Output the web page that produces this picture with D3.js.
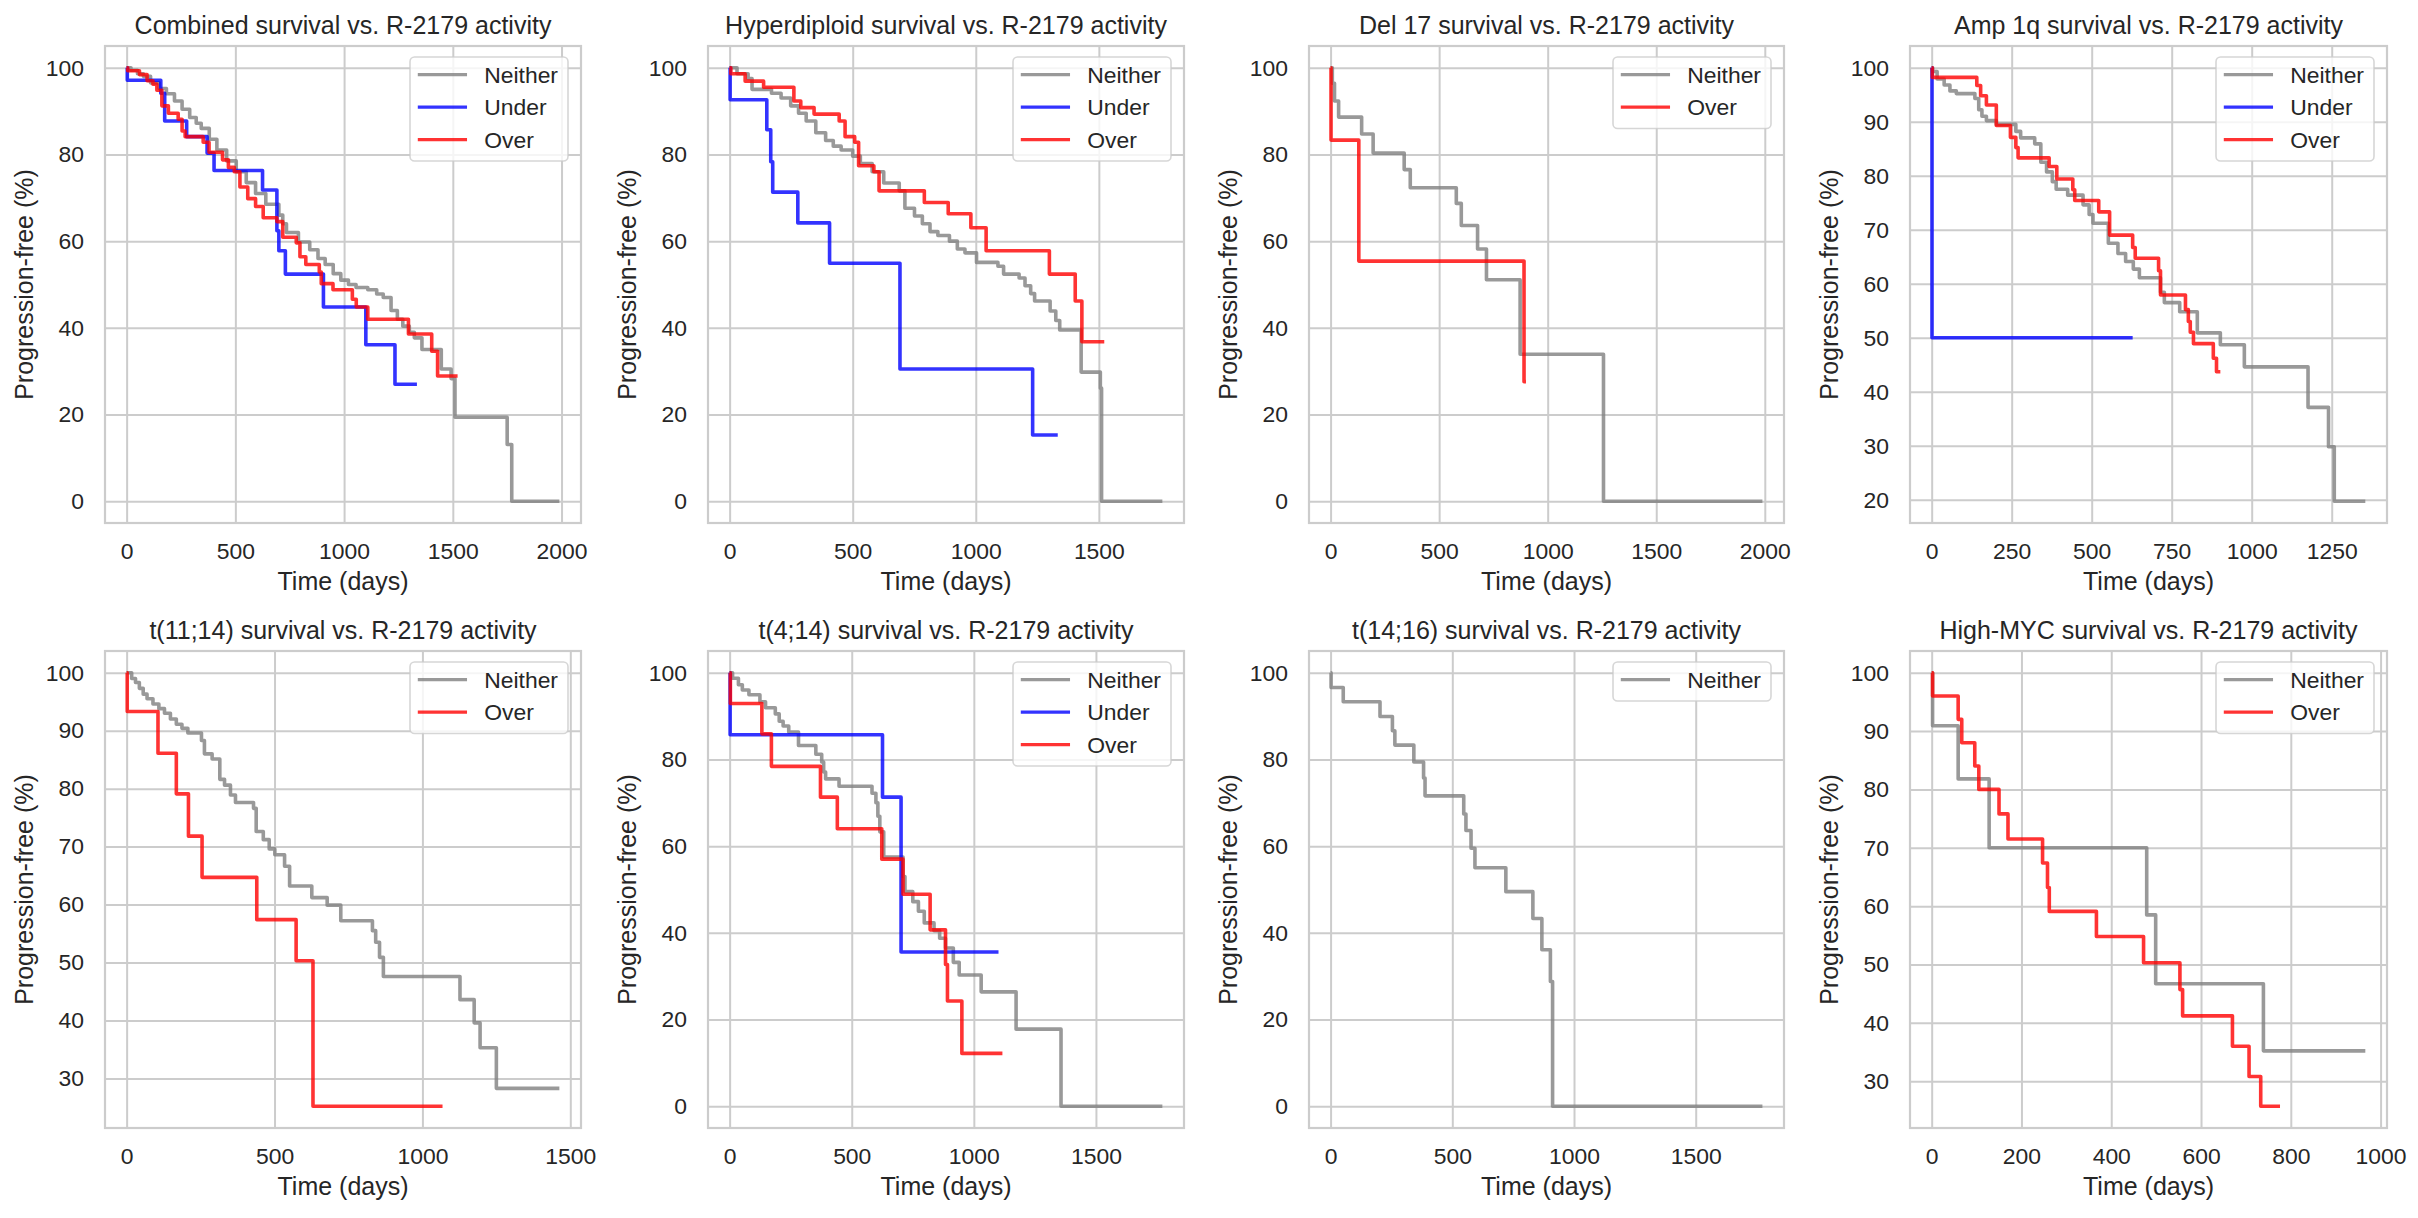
<!DOCTYPE html>
<html>
<head>
<meta charset="utf-8">
<script src="https://cdn.jsdelivr.net/npm/d3@7/dist/d3.min.js"></script>
<style>
body { margin: 0; background: #fff; }
text { font-family: "Liberation Sans", Arial, sans-serif; fill: #262626; }
</style>
</head>
<body>
<svg id="fig" width="2418" height="1218"></svg>
<script>
// step curves: [time (days), progression-free % after the step]
var combinedNeither = [[0,100],[20,99.4],[50,98.6],[77,98],[110,96.5],[150,95.2],[183,94],[220,92.3],[255,90.4],[290,88.5],[320,87.2],[343,86],[380,83.5],[415,81],[460,78.5],[504,76],[550,73.5],[593,71],[640,68.5],[700,66],[718,64],[735,62],[790,59.8],[842,58],[880,56],[913,54.6],[950,52.5],[985,51],[1020,50],[1055,49.3],[1109,48.8],[1150,47.8],[1180,47],[1216,44],[1245,42],[1270,40.4],[1300,39],[1323,37.7],[1358,35],[1447,30.5],[1492,28.3],[1510,19.4],[1750,13.1],[1771,0],[1990,0]];
var combinedUnder = [[0,100],[3,97.1],[157,94.1],[175,87.7],[276,84.1],[370,80.3],[402,76.3],[625,71.8],[691,62.4],[700,57.8],[730,52.4],[905,44.8],[1100,36.1],[1234,27],[1335,27]];
var combinedOver = [[0,100],[5,99.3],[59,98.4],[94,97],[121,96.2],[139,94.8],[162,91.2],[192,89.5],[237,88.1],[255,85.4],[269,84.1],[352,82.8],[379,80.5],[441,78.75],[468,77],[495,76],[521,72.5],[557,69.8],[593,68],[628,65.4],[691,64.5],[718,60.9],[780,59.6],[797,56.4],[824,54.6],[886,52.9],[895,50.2],[949,48.8],[1038,46.6],[1056,44.8],[1109,42],[1296,38.6],[1403,34.6],[1430,28.9],[1522,28.9]];

var hyperNeither = [[0,100],[30,98.6],[75,97.5],[91,95],[170,94.1],[209,93],[248,91.2],[280,89.5],[311,87.7],[350,85],[390,83.2],[421,81.9],[453,81],[500,79.6],[531,77.9],[579,76],[626,73.4],[689,71.6],[712,67.6],[751,65.8],[783,64],[814,62.2],[846,61.3],[893,60],[925,58.2],[956,57.3],[1003,55.1],[1090,54.2],[1113,52.4],[1176,51.5],[1200,49.7],[1223,47.9],[1239,46.2],[1302,43.9],[1325,41.7],[1341,39.5],[1428,29.8],[1506,26.1],[1511,0],[1758,0]];
var hyperUnder = [[0,100],[2,92.6],[151,85.7],[167,78.3],[175,71.3],[277,64.2],[406,54.9],[692,30.5],[1231,15.3],[1333,15.3]];
var hyperOver = [[0,100],[5,98.6],[63,96.9],[138,95.5],[261,92.3],[289,90.8],[343,89.3],[445,87.7],[469,84.1],[508,82.8],[524,77.4],[586,76],[607,71.6],[791,68.9],[888,66.3],[980,63.1],[1042,57.8],[1299,52.4],[1404,46.2],[1431,36.8],[1522,36.8]];

var del17Neither = [[0,100],[8,96.4],[18,92.3],[37,88.6],[143,84.7],[196,80.3],[339,76.5],[367,72.3],[579,68.7],[602,63.6],[677,58.2],[718,51.1],[873,33.9],[1257,0],[1989,0]];
var del17Over = [[0,100],[2,83.3],[130,55.4],[891,27.6],[900,27.6]];

var amp1qNeither = [[0,100],[3,99.3],[17,97.9],[39,96.8],[57,95.7],[77,95.2],[135,94.3],[147,92.2],[157,91],[171,90.2],[202,89.5],[263,88.2],[278,87],[322,85.9],[341,82.5],[359,80.7],[377,78.9],[389,77.5],[425,76.4],[473,74.6],[492,72.8],[504,71.2],[552,67.5],[582,65.6],[606,64.1],[630,62.7],[649,61.1],[715,58.4],[727,56.5],[775,54.8],[830,50.9],[902,48.7],[977,44.6],[1176,37.1],[1240,29.8],[1258,19.7],[1355,19.7]];
var amp1qUnder = [[0,100],[1,50],[628,50]];
var amp1qOver = [[0,100],[2,98.2],[141,96.7],[153,94.8],[171,93.1],[202,89.3],[246,87.1],[263,85.2],[270,83.3],[367,81.7],[391,79.4],[441,77.4],[447,75.4],[522,73.3],[556,69],[628,66.7],[636,64.7],[709,62.4],[715,57.9],[793,55.2],[802,53],[808,51],[818,48.9],[880,46.2],[890,43.7],[902,43.7]];

var t1114Neither = [[0,100],[17,99],[30,98.3],[43,97.3],[56,96.3],[69,95.5],[89,94.6],[109,93.8],[128,93],[148,92],[168,91.1],[187,90.4],[207,89.6],[253,88.3],[263,86],[289,85.1],[315,81.6],[331,80.6],[351,78.9],[368,77.6],[429,76.6],[438,72.6],[462,71.2],[482,69.6],[501,68.6],[534,66.6],[551,63.2],[626,61.2],[678,59.9],[724,57.2],[831,55.5],[842,53.5],[855,50.9],[868,47.6],[1127,43.6],[1175,39.6],[1195,35.3],[1250,28.3],[1463,28.3]];
var t1114Over = [[0,100],[2,93.3],[106,86.1],[168,79.1],[209,71.8],[255,64.7],[440,57.4],[573,50.3],[630,25.2],[1068,25.2]];

var t414Neither = [[0,100],[12,98.7],[36,97.2],[52,96],[79,94.9],[124,93.3],[147,91.9],[187,90.5],[203,88.8],[219,87.7],[242,86.3],[282,83.2],[353,81.2],[377,79.4],[385,77.1],[393,75.5],[448,73.8],[583,72.2],[599,70],[607,66.9],[615,63.3],[631,57.5],[710,53],[718,49.5],[750,47.2],[773,45],[797,42.3],[837,40.5],[860,38.75],[884,36.5],[916,33.2],[940,30.3],[1030,26.4],[1173,17.8],[1357,0],[1772,0]];
var t414Under = [[0,100],[2,85.7],[626,71.3],[702,35.6],[1101,35.6]];
var t414Over = [[0,100],[3,92.9],[132,85.9],[171,78.4],[372,71.3],[441,64],[623,57],[710,48.9],[821,40.7],[884,32.7],[892,24.3],[951,12.2],[1117,12.2]];

var t1416Neither = [[0,100],[2,96.6],[52,93.3],[203,89.9],[254,86.6],[264,83.3],[342,79.4],[382,75.7],[388,71.6],[547,67.4],[556,63.6],[577,59.5],[593,55],[720,49.5],[831,43.3],[868,36.1],[903,28.8],[912,0],[1774,0]];

var mycNeither = [[0,100],[2,90.9],[59,81.8],[128,70],[479,58.5],[499,46.7],[739,35.2],[966,35.2]];
var mycOver = [[0,100],[2,96],[59,92],[67,88],[96,84],[105,80],[150,75.8],[170,71.5],[247,67.4],[258,63.2],[262,59.1],[367,54.8],[472,50.3],[553,45.7],[559,41.2],[670,36],[707,30.8],[733,25.7],[776,25.7]];

var titles = ["Combined", "Hyperdiploid", "Del 17", "Amp 1q", "t(11;14)", "t(4;14)", "t(14;16)", "High-MYC"];
var ticks2000 = [0, 500, 1000, 1500, 2000];
var ticks1500 = [0, 500, 1000, 1500];
var ticksAmp = [0, 250, 500, 750, 1000, 1250];
var ticksMyc = [0, 200, 400, 600, 800, 1000];
var yTicks100 = [0, 20, 40, 60, 80, 100];
var yTicksTen20 = [20, 30, 40, 50, 60, 70, 80, 90, 100];
var yTicksTen30 = [30, 40, 50, 60, 70, 80, 90, 100];

var groupColor = {"Neither": "gray", "Under": "blue", "Over": "red"};

var panels = [
	{curves: {"Neither": combinedNeither, "Under": combinedUnder, "Over": combinedOver}, xTicks: ticks2000, yTicks: yTicks100},
	{curves: {"Neither": hyperNeither, "Under": hyperUnder, "Over": hyperOver}, xTicks: ticks1500, yTicks: yTicks100},
	{curves: {"Neither": del17Neither, "Over": del17Over}, xTicks: ticks2000, yTicks: yTicks100},
	{curves: {"Neither": amp1qNeither, "Under": amp1qUnder, "Over": amp1qOver}, xTicks: ticksAmp, yTicks: yTicksTen20},
	{curves: {"Neither": t1114Neither, "Over": t1114Over}, xTicks: ticks1500, yTicks: yTicksTen30},
	{curves: {"Neither": t414Neither, "Under": t414Under, "Over": t414Over}, xTicks: ticks1500, yTicks: yTicks100},
	{curves: {"Neither": t1416Neither}, xTicks: ticks1500, yTicks: yTicks100},
	{curves: {"Neither": mycNeither, "Over": mycOver}, xTicks: ticksMyc, yTicks: yTicksTen30}
];

// axes boxes in pixels (columns differ a little because of tick label widths)
var colX = [[105, 581], [708, 1184], [1309, 1784], [1910, 2387]];
var rowY = [[46, 523], [651, 1128]];

var tickFont = 22.9;
var labelFont = 25;
var lineW = 3.6;

var svg = d3.select('#fig');

function drawPanel(p, i) {
	var col = i % 4, row = Math.floor(i / 4);
	var x0 = colX[col][0], x1 = colX[col][1];
	var y0 = rowY[row][0], y1 = rowY[row][1];
	var names = Object.keys(p.curves);

	var allT = [], allS = [];
	names.forEach(function(n) {
		p.curves[n].forEach(function(d) { allT.push(d[0]); allS.push(d[1]); });
	});
	var tMax = d3.max(allT);
	var sMin = d3.min(allS), sMax = d3.max(allS);
	var sRange = sMax - sMin;

	// matplotlib style 5% margins
	var x = d3.scaleLinear().domain([-0.05 * tMax, 1.05 * tMax]).range([x0, x1]);
	var y = d3.scaleLinear().domain([sMin - 0.05 * sRange, sMax + 0.05 * sRange]).range([y1, y0]);

	var g = svg.append('g');

	var xAxis = g.append('g')
		.attr('transform', 'translate(0,' + y1 + ')')
		.call(d3.axisBottom(x).tickValues(p.xTicks).tickFormat(d3.format('d')).tickSize(-(y1 - y0)).tickPadding(20));
	var yAxis = g.append('g')
		.attr('transform', 'translate(' + x0 + ',0)')
		.call(d3.axisLeft(y).tickValues(p.yTicks).tickFormat(d3.format('d')).tickSize(-(x1 - x0)).tickPadding(21));

	[xAxis, yAxis].forEach(function(a) {
		a.select('.domain').remove();
		a.selectAll('.tick line').attr('stroke', '#cccccc').attr('stroke-width', 2);
		a.selectAll('.tick text')
			.attr('font-family', '"Liberation Sans", Arial, sans-serif')
			.attr('font-size', tickFont)
			.attr('fill', '#262626');
	});

	var line = d3.line()
		.curve(d3.curveStepAfter)
		.x(function(d) { return x(d[0]); })
		.y(function(d) { return y(d[1]); });

	names.forEach(function(n) {
		g.append('path')
			.datum(p.curves[n])
			.attr('d', line)
			.attr('fill', 'none')
			.attr('stroke', groupColor[n])
			.attr('stroke-opacity', 0.8)
			.attr('stroke-width', lineW)
			.attr('stroke-linejoin', 'round');
	});

	// spines
	g.append('rect')
		.attr('x', x0).attr('y', y0)
		.attr('width', x1 - x0).attr('height', y1 - y0)
		.attr('fill', 'none')
		.attr('stroke', '#cccccc')
		.attr('stroke-width', 2.2);

	g.append('text')
		.attr('x', (x0 + x1) / 2)
		.attr('y', y0 - 12.5)
		.attr('text-anchor', 'middle')
		.attr('font-size', labelFont)
		.text(titles[i] + ' survival vs. R-2179 activity');

	g.append('text')
		.attr('x', (x0 + x1) / 2)
		.attr('y', y1 + 67)
		.attr('text-anchor', 'middle')
		.attr('font-size', labelFont)
		.text('Time (days)');

	g.append('text')
		.attr('transform', 'translate(' + (x0 - 72) + ',' + ((y0 + y1) / 2) + ') rotate(-90)')
		.attr('text-anchor', 'middle')
		.attr('font-size', labelFont)
		.text('Progression-free (%)');

	// legend, upper right
	var leg = g.append('g');
	var box = leg.append('rect');
	var pad = 0.34 * tickFont, handle = 2.15 * tickFont, gap = 0.75 * tickFont, rowH = 32.5;
	var maxW = 0;
	names.forEach(function(n, k) {
		var cy = 17.6 + k * rowH;
		leg.append('line')
			.attr('x1', pad).attr('x2', pad + handle)
			.attr('y1', cy).attr('y2', cy)
			.attr('stroke', groupColor[n])
			.attr('stroke-opacity', 0.8)
			.attr('stroke-width', 3.4);
		var t = leg.append('text')
			.attr('x', pad + handle + gap)
			.attr('y', cy + 8.2)
			.attr('font-size', tickFont)
			.text(n);
		maxW = Math.max(maxW, t.node().getComputedTextLength());
	});
	var legW = pad + handle + gap + maxW + 10;
	var legH = 39 + rowH * (names.length - 1);
	box.attr('width', legW).attr('height', legH)
		.attr('rx', 4.6).attr('ry', 4.6)
		.attr('fill', 'white').attr('fill-opacity', 0.8)
		.attr('stroke', '#cccccc').attr('stroke-opacity', 0.8)
		.attr('stroke-width', 1.6);
	leg.attr('transform', 'translate(' + (x1 - 13 - legW) + ',' + (y0 + 11) + ')');
}

panels.forEach(drawPanel);
</script>
</body>
</html>
